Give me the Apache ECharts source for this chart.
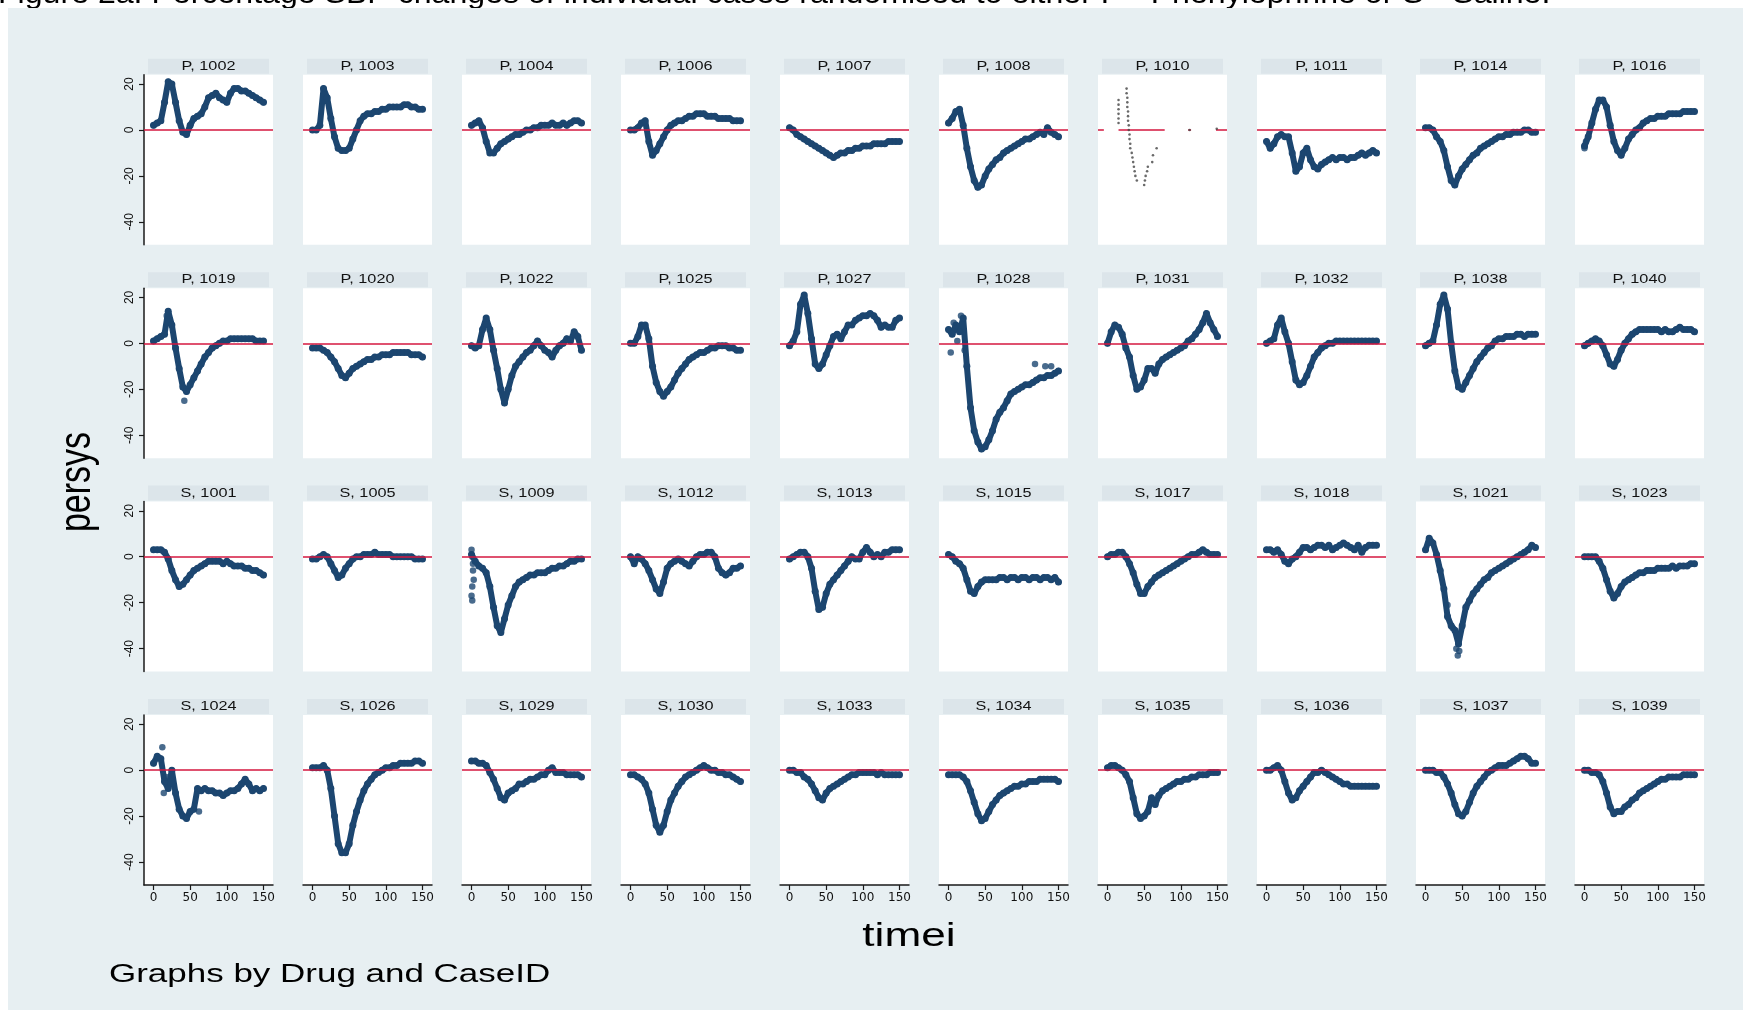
<!DOCTYPE html>
<html><head><meta charset="utf-8">
<script src="https://cdn.jsdelivr.net/npm/echarts@6/dist/echarts.min.js"></script>
<style>html,body{margin:0;padding:0;background:#fff;} #c{width:1743px;height:1010px;}</style>
</head><body><div id="c"></div>
<script>
// ---- data ----
const timei = [0,5,10,15,20,25,30,35,40,45,50,55,60,65,70,75,80,85,90,95,100,105,110,115,120,125,130,135,140,145,150];
const xTicks = [0,50,100,150];
const yTicks = [-40,-20,0,20];

const P1002 = [2,3,4,12,21,20,12,4,-1,-2,2,5,6,7,10,14,15,16,14,13,12,16,18,18,17,17,16,15,14,13,12];
const P1003 = [0,0,2,18,14,5,-3,-8,-9,-9,-8,-4,0,4,6,7,7,8,8,9,9,10,10,10,10,11,11,10,10,9,9];
const P1004 = [2,3,4,1,-5,-10,-10,-8,-6,-5,-4,-3,-2,-2,-1,0,0,1,1,2,2,2,3,2,2,3,2,3,4,4,3];
const P1006 = [0,0,1,3,4,-5,-11,-9,-6,-3,0,2,3,4,4,5,6,6,7,7,7,6,6,6,5,5,5,5,4,4,4];
const P1007 = [1,0,-2,-3,-4,-5,-6,-7,-8,-9,-10,-11,-12,-11,-10,-10,-9,-9,-8,-8,-7,-7,-7,-6,-6,-6,-6,-5,-5,-5,-5];
const P1008 = [3,5,8,9,2,-8,-16,-22,-25,-24,-20,-17,-15,-13,-12,-10,-9,-8,-7,-6,-5,-4,-4,-3,-2,-1,-2,1,-1,-2,-3];
const P1010pts = [[15,3],[15,5],[15,7],[15,9],[15,11],[15,13],[26,18],[26,16],[27,14],[27,12],[27,10],[28,8],[28,6],[28,4],[29,2],[29,0],[30,-2],[30,-4],[31,-6],[31,-8],[33,-10],[34,-12],[35,-14],[36,-16],[37,-18],[38,-20],[40,-22],[50,-24],[51,-22],[52,-20],[54,-18],[55,-16],[61,-14],[62,-11],[67,-8],[112,0],[149,0.5]];
const P1010zero = [[-13,0],[-5,0],[0,'-'],[15,0],[78,0],[90,'-'],[110,0],[114,0],[120,'-'],[148,0],[163,0]];
const P1011 = [-5,-8,-6,-3,-2,-3,-3,-10,-18,-16,-10,-8,-13,-16,-17,-15,-14,-13,-12,-13,-12,-12,-13,-12,-12,-11,-10,-11,-10,-9,-10];
const P1014 = [1,1,0,-3,-5,-9,-16,-22,-24,-20,-17,-15,-13,-11,-10,-8,-7,-6,-5,-4,-3,-3,-2,-2,-1,-1,-1,0,0,-1,-1];
const P1016 = [-7,-3,3,9,13,13,10,2,-5,-9,-11,-8,-4,-2,0,1,3,4,5,5,6,6,6,7,7,7,7,8,8,8,8];

const P1019 = [1,2,3,4,14,8,-2,-11,-19,-21,-18,-15,-12,-9,-6,-4,-2,-1,0,1,1,2,2,2,2,2,2,2,1,1,1];
const P1020 = [-2,-2,-2,-3,-4,-6,-8,-11,-14,-15,-13,-11,-10,-9,-8,-7,-7,-6,-6,-5,-5,-5,-4,-4,-4,-4,-4,-5,-5,-5,-6];
const P1022 = [-1,-2,-1,6,11,6,-3,-11,-20,-26,-20,-14,-10,-8,-6,-4,-3,-1,1,-1,-3,-4,-6,-3,-1,0,2,1,5,3,-3];
const P1025 = [0,0,3,8,8,2,-10,-17,-21,-23,-21,-19,-16,-13,-11,-9,-7,-6,-5,-4,-4,-3,-2,-2,-1,-1,-1,-2,-2,-3,-3];
const P1027 = [-1,1,5,17,21,13,2,-9,-11,-9,-5,-1,3,4,2,5,8,8,10,11,12,12,13,12,10,7,8,7,7,10,11];
const P1028 = [6,4,8,5,11,-10,-28,-38,-43,-46,-45,-42,-38,-33,-30,-28,-25,-22,-21,-20,-19,-18,-18,-17,-16,-15,-15,-14,-14,-13,-12];
const P1031 = [0,5,8,7,4,-2,-6,-14,-20,-19,-16,-11,-11,-13,-9,-7,-6,-5,-4,-3,-2,-1,1,2,4,6,9,13,9,6,3];
const P1032 = [0,1,2,8,11,5,0,-8,-16,-18,-17,-14,-10,-6,-4,-2,-1,0,0,1,1,1,1,1,1,1,1,1,1,1,1];
const P1038 = [-1,0,1,8,17,21,15,0,-12,-19,-20,-17,-14,-11,-8,-6,-4,-2,-1,1,2,2,3,3,3,4,4,3,4,4,4];
const P1040 = [-1,0,1,2,1,-1,-5,-9,-10,-7,-3,0,2,4,5,6,6,6,6,6,6,5,6,5,5,6,7,6,6,6,5];

const S1001 = [3,3,3,2,-1,-6,-10,-13,-12,-10,-8,-6,-5,-4,-3,-2,-2,-2,-2,-3,-2,-3,-4,-4,-4,-5,-5,-6,-6,-7,-8];
const S1005 = [-1,-1,0,1,0,-3,-6,-9,-8,-5,-3,-1,0,0,1,1,1,2,1,1,1,1,0,0,0,0,0,0,-1,-1,-1];
const S1009 = [1,-2,-4,-5,-7,-13,-22,-30,-33,-27,-21,-17,-13,-11,-10,-9,-8,-8,-7,-7,-7,-6,-5,-5,-4,-4,-3,-2,-2,-1,-1];
const S1012 = [0,-3,0,-1,-3,-6,-10,-14,-16,-11,-5,-3,-2,-1,-2,-3,-4,-2,0,1,1,2,2,0,-5,-7,-8,-7,-5,-5,-4];
const S1013 = [-1,0,1,2,2,0,-5,-15,-23,-22,-16,-12,-10,-8,-6,-4,-2,0,-1,-1,2,4,2,0,1,0,2,2,3,3,3];
const S1015 = [1,0,-2,-3,-5,-10,-15,-16,-13,-11,-10,-10,-10,-10,-9,-9,-10,-9,-9,-10,-9,-9,-10,-9,-9,-10,-9,-9,-10,-9,-11];
const S1017 = [0,1,1,2,2,0,-3,-7,-12,-16,-16,-13,-11,-9,-8,-7,-6,-5,-4,-3,-2,-1,0,1,1,2,3,2,1,1,1];
const S1018 = [3,3,2,3,1,-2,-3,-1,0,2,4,4,3,4,5,5,4,5,3,4,5,6,5,4,3,5,2,4,5,5,5];
const S1021 = [3,8,6,1,-6,-14,-26,-30,-32,-38,-30,-22,-19,-16,-14,-12,-10,-9,-7,-6,-5,-4,-3,-2,-1,0,1,2,3,5,4];
const S1023 = [0,0,0,0,-2,-5,-10,-15,-18,-16,-13,-11,-10,-9,-8,-7,-7,-6,-6,-6,-5,-5,-5,-5,-4,-5,-4,-4,-4,-3,-3];

const S1024 = [3,6,5,-5,-8,0,-10,-17,-20,-21,-18,-17,-8,-9,-8,-9,-9,-10,-10,-11,-10,-9,-9,-8,-6,-4,-6,-9,-8,-9,-8];
const S1026 = [1,1,1,2,0,-8,-20,-32,-36,-36,-32,-24,-18,-13,-9,-6,-4,-2,-1,0,1,1,2,2,3,3,3,3,4,4,3];
const S1029 = [4,4,3,3,2,-1,-4,-8,-12,-13,-10,-9,-8,-6,-6,-5,-4,-4,-3,-2,-2,0,1,-1,-1,-1,-2,-2,-2,-2,-3];
const S1030 = [-2,-2,-3,-4,-6,-10,-17,-24,-27,-24,-18,-13,-10,-7,-5,-3,-2,-1,0,1,2,1,0,0,-1,-1,-2,-2,-3,-4,-5];
const S1033 = [0,0,-1,-1,-3,-4,-6,-9,-12,-13,-10,-8,-7,-6,-5,-4,-3,-2,-2,-1,-1,-1,-1,-1,-2,-1,-2,-2,-2,-2,-2];
const S1034 = [-2,-2,-2,-2,-3,-5,-9,-14,-19,-22,-21,-18,-15,-13,-11,-10,-9,-8,-7,-7,-6,-6,-5,-5,-5,-4,-4,-4,-4,-4,-5];
const S1035 = [1,2,2,1,0,-2,-5,-12,-19,-21,-20,-18,-12,-15,-11,-9,-8,-7,-6,-5,-5,-4,-4,-3,-3,-2,-2,-2,-1,-1,-1];
const S1036 = [0,0,1,2,0,-5,-10,-13,-12,-9,-7,-5,-3,-1,-1,0,-1,-2,-3,-4,-5,-6,-6,-7,-7,-7,-7,-7,-7,-7,-7];
const S1037 = [0,0,0,-1,-1,-3,-6,-10,-15,-19,-20,-18,-14,-10,-7,-5,-3,-1,0,1,2,2,2,3,4,5,6,6,5,3,3];
const S1039 = [0,0,-1,-1,-2,-5,-10,-16,-19,-18,-18,-16,-15,-13,-12,-10,-9,-8,-7,-6,-5,-4,-4,-3,-3,-3,-3,-2,-2,-2,-2];

// stray points (time, value)
const xP1016 = [[0,-8],[2,-5]];
const xP1019 = [[42,-25],[18,12]];
const xP1028 = [[3,-4],[7,9],[12,1],[17,12],[22,-3],[118,-9],[132,-10],[140,-10]];
const xS1009 = [[0,3],[1,0],[2,-3],[0,-17],[1,-19],[1,-13],[3,-10],[2,-6]];
const xS1021 = [[42,-40],[44,-43],[46,-41],[30,-21],[37,-31]];
const xS1024 = [[12,10],[14,-10],[62,-18],[17,-3]];

const panels = [
  ['P, 1002',P1002,[]],['P, 1003',P1003,[]],['P, 1004',P1004,[]],['P, 1006',P1006,[]],['P, 1007',P1007,[]],
  ['P, 1008',P1008,[]],['P, 1010',null,null],['P, 1011',P1011,[]],['P, 1014',P1014,[]],['P, 1016',P1016,xP1016],
  ['P, 1019',P1019,xP1019],['P, 1020',P1020,[]],['P, 1022',P1022,[]],['P, 1025',P1025,[]],['P, 1027',P1027,[]],
  ['P, 1028',P1028,xP1028],['P, 1031',P1031,[]],['P, 1032',P1032,[]],['P, 1038',P1038,[]],['P, 1040',P1040,[]],
  ['S, 1001',S1001,[]],['S, 1005',S1005,[]],['S, 1009',S1009,xS1009],['S, 1012',S1012,[]],['S, 1013',S1013,[]],
  ['S, 1015',S1015,[]],['S, 1017',S1017,[]],['S, 1018',S1018,[]],['S, 1021',S1021,xS1021],['S, 1023',S1023,[]],
  ['S, 1024',S1024,xS1024],['S, 1026',S1026,[]],['S, 1029',S1029,[]],['S, 1030',S1030,[]],['S, 1033',S1033,[]],
  ['S, 1034',S1034,[]],['S, 1035',S1035,[]],['S, 1036',S1036,[]],['S, 1037',S1037,[]],['S, 1039',S1039,[]]
];

// ---- layout ----
const NAVY = '#1c4670', RED = '#d4173f';
const GL = 144, GDX = 159, GT = 74.8, GDY = 213.4, GW = 129, GH = 170;
const grids = [], xAxes = [], yAxes = [], series = [];
const graphics = [
  {type:'text', x:-2, y:10, z:-20, scaleX:1.07, style:{text:'Figure 2a. Percentage SBP changes of individual cases randomised to either P - Phenylephrine or S - Saline.', font:'30px "Liberation Sans"', fill:'#000', textAlign:'left', textVerticalAlign:'bottom'}},
  {type:'rect', z:-10, shape:{x:8, y:8, width:1735, height:1002}, style:{fill:'#e7eff2'}},
  {type:'text', x:78, y:482, rotation:Math.PI/2, scaleY:1.3, style:{text:'persys', font:'34px "Liberation Sans"', fill:'#000', textAlign:'center', textVerticalAlign:'middle'}},
  {type:'text', x:909, y:937, scaleX:1.3, style:{text:'timei', font:'34px "Liberation Sans"', fill:'#000', textAlign:'center', textVerticalAlign:'middle'}},
  {type:'text', x:109, y:975, scaleX:1.345, style:{text:'Graphs by Drug and CaseID', font:'26px "Liberation Sans"', fill:'#000', textAlign:'left', textVerticalAlign:'middle'}}
];

panels.forEach((p, i) => {
  const r = Math.floor(i / 10), c = i % 10;
  const left = GL + GDX * c, top = GT + GDY * r;
  grids.push({left:left, top:top, width:GW, height:GH, show:true, backgroundColor:'#ffffff', borderWidth:0});
  xAxes.push({type:'value', gridIndex:i, min:-13, max:163,
    axisLine:{show:r===3, onZero:false, lineStyle:{color:'#1a1a1a', width:1.5}},
    axisTick:{show:r===3, customValues:xTicks, length:5, lineStyle:{color:'#1a1a1a', width:1.2}},
    axisLabel:{show:r===3, customValues:xTicks, margin:7, color:'#111', fontSize:12, fontFamily:'DejaVu Sans'},
    splitLine:{show:false}});
  yAxes.push({type:'value', gridIndex:i, min:-50, max:24,
    axisLine:{show:c===0, onZero:false, lineStyle:{color:'#1a1a1a', width:1.5}},
    axisTick:{show:c===0, customValues:yTicks, length:5, lineStyle:{color:'#1a1a1a', width:1.2}},
    axisLabel:{show:c===0, customValues:yTicks, rotate:90, margin:8, color:'#111', fontSize:12, fontFamily:'Liberation Sans'},
    splitLine:{show:false}});
  graphics.push({type:'rect', shape:{x:left+4, y:top-16, width:GW-8, height:15}, style:{fill:'#dce5ea'}});
  graphics.push({type:'text', x:left + GW/2, y:top-8.5, scaleX:1.3, style:{text:p[0], font:'12.5px "Liberation Sans"', fill:'#111', textAlign:'center', textVerticalAlign:'middle'}});

  if (p[1] === null) {
    series.push({type:'line', xAxisIndex:i, yAxisIndex:i, data:P1010zero, symbol:'none', silent:true, z:1,
      lineStyle:{color:RED, width:1.5}});
    series.push({type:'scatter', xAxisIndex:i, yAxisIndex:i, data:P1010pts, symbolSize:2.6, silent:true, z:3,
      itemStyle:{color:'#444'}});
    return;
  }
  series.push({type:'line', xAxisIndex:i, yAxisIndex:i, data:[], silent:true, z:1,
    markLine:{silent:true, symbol:'none', label:{show:false}, animation:false,
      lineStyle:{color:RED, width:1.5, type:'solid'}, data:[{yAxis:0}]}});
  series.push({type:'line', xAxisIndex:i, yAxisIndex:i, silent:true, z:3,
    data: timei.map((t, k) => [t, p[1][k]]),
    symbol:'circle', symbolSize:7, showSymbol:true, showAllSymbol:true,
    itemStyle:{color:NAVY}, lineStyle:{color:NAVY, width:6, cap:'round', join:'round'}});
  if (p[2].length) {
    series.push({type:'scatter', xAxisIndex:i, yAxisIndex:i, data:p[2], symbolSize:6.5, silent:true, z:3,
      itemStyle:{color:NAVY}});
  }
});

const chart = echarts.init(document.getElementById('c'), null, {renderer:'canvas'});
chart.setOption({
  animation:false,
  backgroundColor:'transparent',
  grid:grids, xAxis:xAxes, yAxis:yAxes, series:series, graphic:graphics
});
</script>
</body></html>
